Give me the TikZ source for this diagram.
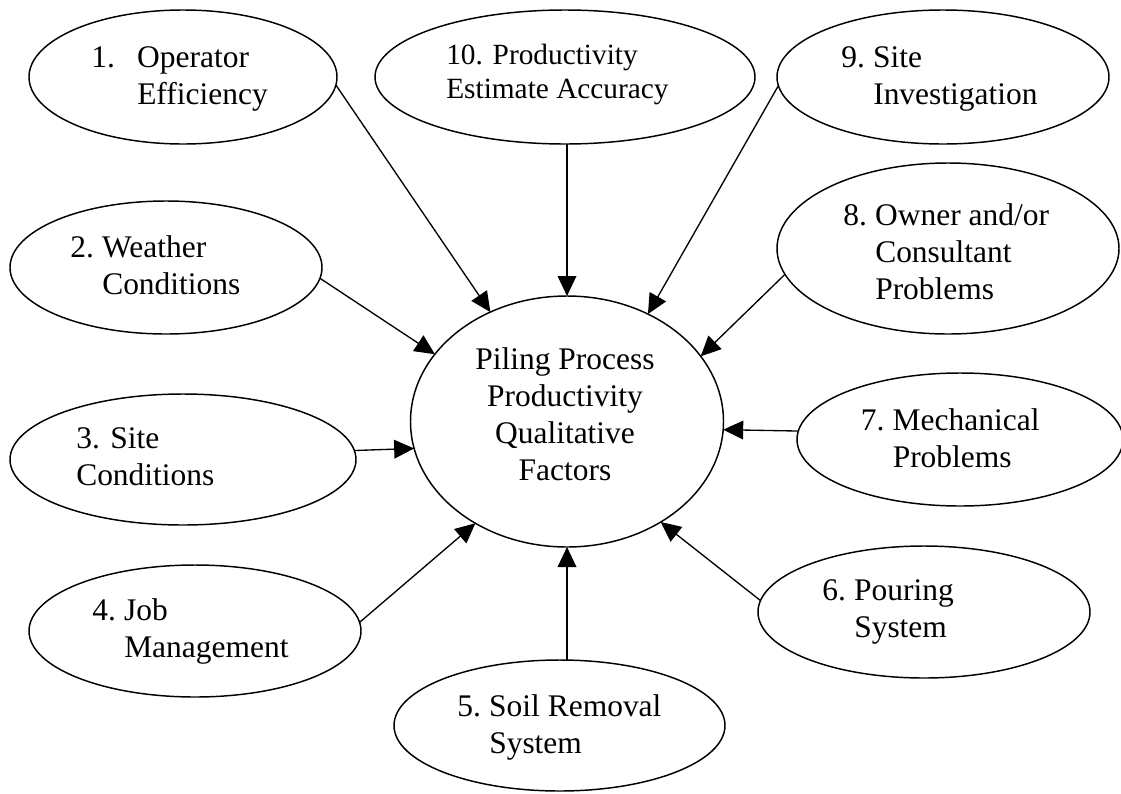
\documentclass[tikz,border=0pt]{standalone}
\usepackage{fontspec}
\setmainfont{Liberation Serif}
\usetikzlibrary{arrows.meta,shapes.geometric}
\begin{document}
\begin{tikzpicture}[x=0.75pt,y=-0.75pt,
  bubble/.style={draw, ellipse, line width=1.1pt, inner sep=0pt, outer sep=0pt},
  factortext/.style={anchor=base west, inner sep=0pt, font=\fontsize{23.6}{27.75}\selectfont},
  feed/.style={-{Triangle[length=15pt,width=14pt]}, line width=1pt}]
\clip (0,0) rectangle (1121,793);
\fill[white] (0,0) rectangle (1121,793);

% central factor
\node[bubble, minimum width=234.75pt, minimum height=188.25pt] (c) at (567,421.5) {};
\node[anchor=base, inner sep=0pt, font=\fontsize{23.6}{27.75}\selectfont] (tc) at (565,369)
  {\begin{tabular}[t]{@{}c@{}}Piling Process\\Productivity\\Qualitative\\Factors\end{tabular}};

% surrounding factors
\node[bubble, minimum width=231pt,   minimum height=100.5pt] (e1)  at (183,77) {};
\node[bubble, minimum width=285pt,   minimum height=100.5pt] (e10) at (565,77) {};
\node[bubble, minimum width=249pt,   minimum height=100.5pt] (e9)  at (943,77) {};
\node[bubble, minimum width=256.5pt, minimum height=128.25pt] (e8) at (948,248.5) {};
\node[bubble, minimum width=244.5pt, minimum height=99.75pt] (e7)  at (960,439.5) {};
\node[bubble, minimum width=249pt,   minimum height=99pt]   (e6)  at (924,612) {};
\node[bubble, minimum width=248.25pt,minimum height=98.25pt] (e5)  at (559.5,725.5) {};
\node[bubble, minimum width=249pt,   minimum height=99pt]   (e4)  at (195,631) {};
\node[bubble, minimum width=259.5pt, minimum height=98.25pt] (e3)  at (183,459.5) {};
\node[bubble, minimum width=234pt,   minimum height=99.75pt] (e2)  at (166,267.5) {};

% labels
\node[factortext] (t1) at (91,67)
  {\begin{tabular}[t]{@{}l@{}l@{}}\makebox[34.5pt][l]{1.} & Operator\\ & Efficiency\end{tabular}};
\node[factortext, font=\fontsize{22}{25.5}\selectfont] (t10) at (446,64)
  {\begin{tabular}[t]{@{}l@{}}10. Productivity\\Estimate Accuracy\end{tabular}};
\node[factortext] (t9) at (841,67)
  {\begin{tabular}[t]{@{}l@{}l@{}}\makebox[24pt][l]{9.} & Site\\ & Investigation\end{tabular}};
\node[factortext] (t8) at (843,225)
  {\begin{tabular}[t]{@{}l@{}l@{}}\makebox[24pt][l]{8.} & Owner and/or\\ & Consultant\\ & Problems\end{tabular}};
\node[factortext] (t7) at (860.5,430)
  {\begin{tabular}[t]{@{}l@{}l@{}}\makebox[24pt][l]{7.} & Mechanical\\ & Problems\end{tabular}};
\node[factortext] (t6) at (822,600)
  {\begin{tabular}[t]{@{}l@{}l@{}}\makebox[24pt][l]{6.} & Pouring\\ & System\end{tabular}};
\node[factortext] (t5) at (457,716)
  {\begin{tabular}[t]{@{}l@{}l@{}}\makebox[24pt][l]{5.} & Soil Removal\\ & System\end{tabular}};
\node[factortext] (t4) at (92,620)
  {\begin{tabular}[t]{@{}l@{}l@{}}\makebox[24pt][l]{4.} & Job\\ & Management\end{tabular}};
\node[factortext] (t3) at (76,448)
  {\begin{tabular}[t]{@{}l@{}}3. Site\\Conditions\end{tabular}};
\node[factortext] (t2) at (70,257)
  {\begin{tabular}[t]{@{}l@{}l@{}}\makebox[24pt][l]{2.} & Weather\\ & Conditions\end{tabular}};

% influence arrows
\draw[feed] (e1.-3) -- (c.125.5);
\draw[feed] (c.north |- e10.south) -- (c.north);
\draw[feed] (e9.183.5) -- (c.53.8);
\draw[feed] (e8.189.5) -- (c.26.4);
\draw[feed] (e7.177) -- (c.-3.7);
\draw[feed] (e6.176.9) -- (c.-47);
\draw[feed] (c.south |- e5.north) -- (c.south);
\draw[feed] (e4.3.6) -- (c.-132.2);
\draw[feed] (e3.3.4) -- (c.190.6);
\draw[feed] (e2.-4.3) -- (c.153.1);
\end{tikzpicture}
\end{document}
